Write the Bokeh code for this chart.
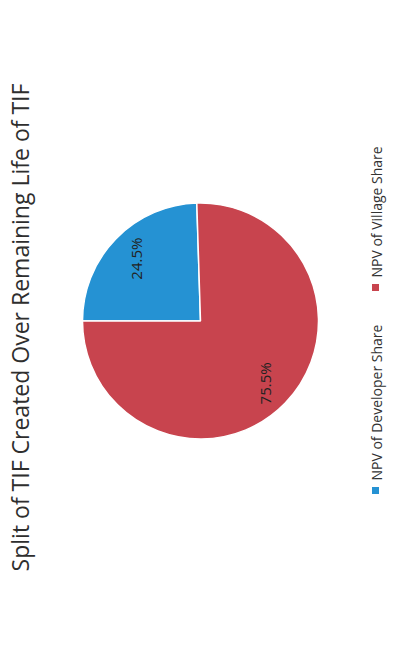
import math
from bokeh.plotting import figure
from bokeh.models import Range1d, ColumnDataSource
from bokeh.core.properties import value
from bokeh.embed import file_html
from bokeh.resources import INLINE

# ---- data ----
categories = ["NPV of Developer Share", "NPV of Village Share"]
shares = [24.5, 75.5]
labels = ["24.5%", "75.5%"]
colors = ["#2592d3", "#c8444e"]
title_text = "Split of TIF Created Over Remaining Life of TIF"

W, H = 388, 632
p = figure(width=W, height=H, output_backend="svg", toolbar_location=None,
           x_range=Range1d(0, W), y_range=Range1d(0, H),
           min_border=0, outline_line_color=None, background_fill_color="white")
p.axis.visible = False
p.grid.visible = False

def Y(py):
    return H - py

# pie: starts at 180deg (rotated chart), goes clockwise
cx, cy, R = 200, Y(320.5), 118
total = sum(shares)
starts, ends, lx, ly = [], [], [], []
a = math.pi  # start angle
for s in shares:
    sweep = 2 * math.pi * s / total
    e = a - sweep
    starts.append(e)
    ends.append(a)
    mid = (a + e) / 2
    lx.append(cx + 0.76 * R * math.cos(mid))
    ly.append(cy + 0.76 * R * math.sin(mid))
    a = e

src = ColumnDataSource(dict(start=starts, end=ends, color=colors, lx=lx, ly=ly,
                            label=labels, cat=categories))
p.wedge(x=cx, y=cy, radius=R, start_angle="start", end_angle="end",
        fill_color="color", line_color="white", line_width=1.5, source=src)

p.text(x="lx", y="ly", text="label", angle=math.pi / 2, source=src,
       text_align="center", text_baseline="middle", text_font=value("Open Sans"),
       text_font_size="15px", text_color="#222222")

# title (rotated)
p.text(x=[19], y=[Y(327)], text=[title_text], angle=math.pi / 2,
       text_align="center", text_baseline="alphabetic", text_font=value("Open Sans"),
       text_font_size="23px", text_color="#2e2e2e")

# legend (rotated, stacked along page y)
leg_x = 375
leg_y = [Y(490 - 203 * i) for i in range(len(categories))]
leg_src = ColumnDataSource(dict(x=[leg_x] * len(categories), y=leg_y, color=colors,
                                tx=[leg_x + 1] * len(categories), ty=[v + 10 for v in leg_y],
                                cat=categories))
p.scatter(x="x", y="y", marker="square", size=7, fill_color="color", line_color=None,
          source=leg_src)
p.text(x="tx", y="ty", text="cat", angle=math.pi / 2, source=leg_src,
       text_align="left", text_baseline="alphabetic", text_font=value("Open Sans"),
       text_font_size="14px", text_color="#333333")

open("out.html", "w").write(file_html(p, INLINE))
